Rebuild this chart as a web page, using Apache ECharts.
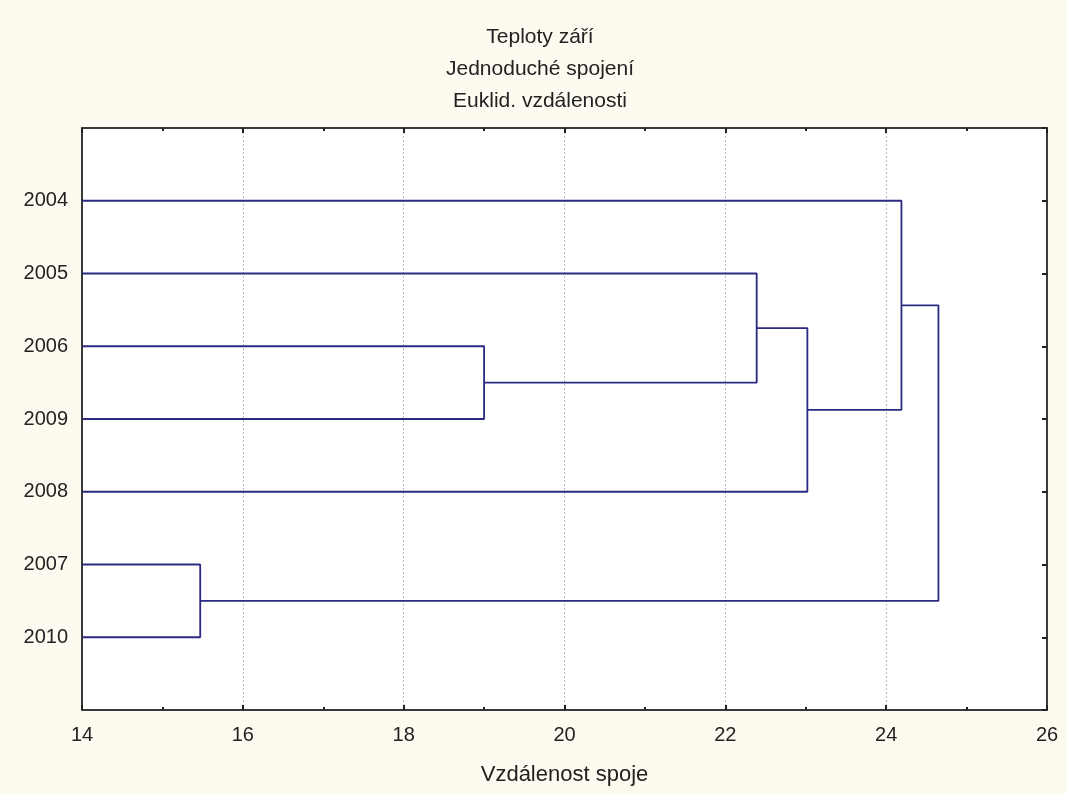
<!DOCTYPE html>
<html>
<head>
<meta charset="utf-8">
<script src="https://cdn.jsdelivr.net/npm/echarts@6/dist/echarts.min.js"></script>
<style>
html,body{margin:0;padding:0;background:#fdfaf0;}
#chart{width:1067px;height:794px;}
</style>
</head>
<body>
<div id="chart"></div>
<script>
// Leaves, top to bottom
const leaves = ['2004', '2005', '2006', '2009', '2008', '2007', '2010'];
// Merges: ids 0..6 are leaves, new cluster ids start at 7
const mergeLeft  = [5, 2, 1, 9, 0, 11];
const mergeRight = [6, 3, 8, 4, 10, 7];
const mergeDist  = [15.47, 19.00, 22.39, 23.02, 24.19, 24.65];
const xTicks = [14, 16, 18, 20, 22, 24, 26];
const titleLines = ['Teploty září', 'Jednoduché spojení', 'Euklid. vzdálenosti'];
const xName = 'Vzdálenost spoje';

const xMin = xTicks[0], xMax = xTicks[xTicks.length - 1];
const nodeX = [], nodeY = [];
leaves.forEach((l, i) => { nodeX.push(xMin); nodeY.push(i + 1); });
const series = [];
mergeDist.forEach((d, k) => {
  const a = mergeLeft[k], b = mergeRight[k];
  series.push({
    type: 'line',
    symbol: 'none',
    silent: true,
    animation: false,
    lineStyle: { color: '#2a2a82', width: 1.8 },
    data: [[nodeX[a], nodeY[a]], [d, nodeY[a]], [d, nodeY[b]], [nodeX[b], nodeY[b]]]
  });
  nodeX.push(d);
  nodeY.push((nodeY[a] + nodeY[b]) / 2);
});

const font = 'Liberation Sans, Arial, sans-serif';
const chart = echarts.init(document.getElementById('chart'), null, { renderer: 'canvas' });
const axisLine = { show: true, onZero: false, lineStyle: { color: '#3a3a3a', width: 2 } };
chart.setOption({
  backgroundColor: '#fdfaf0',
  animation: false,
  grid: { left: 82, right: 20, top: 128, bottom: 84, show: true, backgroundColor: '#ffffff', borderWidth: 0 },
  graphic: titleLines.map((t, i) => ({
    type: 'text', x: 540, y: 37 + i * 32,
    style: { text: t, align: 'center', verticalAlign: 'middle', fontSize: 21, fontFamily: font, fill: '#222' }
  })),
  xAxis: [{
    type: 'value', min: xMin, max: xMax, interval: 2, position: 'bottom',
    name: xName, nameLocation: 'middle', nameGap: 54,
    nameTextStyle: { fontSize: 22, fontFamily: font, color: '#222' },
    axisLine: axisLine,
    axisTick: { show: true, inside: true, length: 5, lineStyle: { color: '#222', width: 2 } },
    minorTick: { show: true, splitNumber: 2, length: 3, lineStyle: { color: '#222', width: 2 } },
    axisLabel: { fontSize: 20, fontFamily: font, color: '#222', margin: 15 },
    splitLine: { show: true, lineStyle: { color: '#b8b8b8', type: [2, 2], width: 1 } }
  }, {
    type: 'value', min: xMin, max: xMax, interval: 2, position: 'top',
    axisLine: axisLine,
    axisTick: { show: true, inside: true, length: 5, lineStyle: { color: '#222', width: 2 } },
    minorTick: { show: true, splitNumber: 2, length: 3, lineStyle: { color: '#222', width: 2 } },
    axisLabel: { show: false }, splitLine: { show: false }
  }],
  yAxis: [{
    type: 'value', min: 0, max: leaves.length + 1, interval: 1, inverse: true, position: 'left',
    axisLine: axisLine,
    axisTick: { show: false },
    axisLabel: {
      fontSize: 20, fontFamily: font, color: '#222', margin: 14,
      formatter: v => leaves[v - 1] || ''
    },
    splitLine: { show: false }
  }, {
    type: 'value', min: 0, max: leaves.length + 1, interval: 1, inverse: true, position: 'right',
    axisLine: axisLine,
    axisTick: { show: true, inside: true, length: 5, lineStyle: { color: '#222', width: 2 } },
    axisLabel: { show: false }, splitLine: { show: false }
  }],
  series: series
});
</script>
</body>
</html>
